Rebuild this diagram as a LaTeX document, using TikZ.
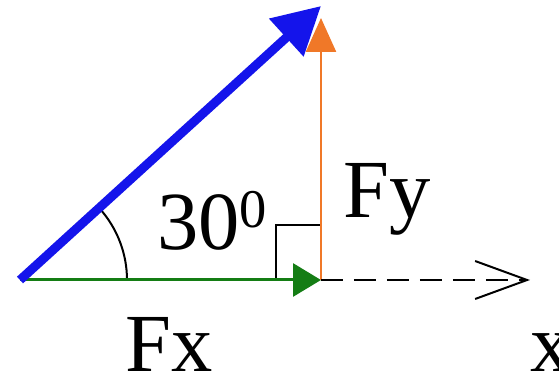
\documentclass[tikz,border=0pt]{standalone}
\usepackage{fontspec}
\setmainfont{Liberation Serif}
\usetikzlibrary{arrows.meta}
\definecolor{forceblue}{RGB}{20,20,235}
\definecolor{forceorange}{RGB}{240,120,40}
\definecolor{forcegreen}{RGB}{20,125,20}
\tikzset{
  lbl/.style={inner sep=0pt,anchor=base west,font=\fontsize{47}{50}\selectfont},
  thinblack/.style={black,line width=0.04cm}
}
\begin{document}
\begin{tikzpicture}[x=0.02cm,y=-0.02cm]
  \useasboundingbox (0,0) rectangle (559,385);
  \coordinate (O) at (20,280);
  \coordinate (F) at (321,6);
  \coordinate (C) at (321,280);
  \coordinate (Ytip) at (321,18);
  \coordinate (X) at (530,280);
  \coordinate (Ra) at (276,280);
  \coordinate (Rb) at (276,225);
  \coordinate (Rc) at (321,225);
  % angle mark and right angle
  \draw[thinblack] (O) ++(107,0) arc[start angle=0,end angle=-42.2,radius=107];
  \draw[thinblack] (Ra) -- (Rb) -- (Rc);
  % components
  \draw[forcegreen,line width=0.06cm,-{Triangle[length=0.56cm,width=0.66cm]}] (O) -- (C);
  \draw[forceorange,line width=0.05cm,-{Triangle[length=0.68cm,width=0.6cm]}] (C) -- (Ytip);
  \draw[thinblack,dash pattern=on 0.44cm off 0.22cm,-{Straight Barb[length=1.04cm,width=0.76cm]}] (C) -- (X);
  % force
  \draw[forceblue,line width=0.18cm,-{Triangle[length=0.94cm,width=0.98cm]}] (O) -- (F);
  \node[lbl] (ang) at (157,250) {30\raisebox{0.46cm}{\fontsize{31}{31}\selectfont 0}};
  \node[lbl] (fy) at (343,218) {Fy};
  \node[lbl] (fx) at (125,372) {Fx};
  \node[lbl] (xl) at (530,372) {x};
\end{tikzpicture}
\end{document}
